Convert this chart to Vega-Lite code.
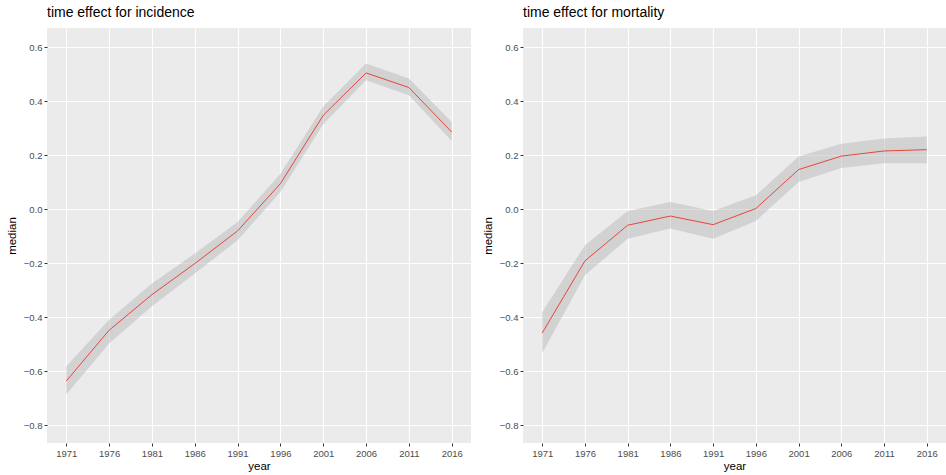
{
  "$schema": "https://vega.github.io/schema/vega-lite/v6.json",
  "padding": {"left": 6, "top": 6, "right": 0, "bottom": 0},
  "background": "white",
  "spacing": 11,
  "datasets": {
    "incidence": [
      {"year": 1971, "median": -0.636, "lower": -0.686, "upper": -0.581},
      {"year": 1976, "median": -0.448, "lower": -0.497, "upper": -0.409},
      {"year": 1981, "median": -0.316, "lower": -0.359, "upper": -0.275},
      {"year": 1986, "median": -0.201, "lower": -0.238, "upper": -0.164},
      {"year": 1991, "median": -0.080, "lower": -0.115, "upper": -0.047},
      {"year": 1996, "median": 0.095, "lower": 0.064, "upper": 0.132},
      {"year": 2001, "median": 0.348, "lower": 0.315, "upper": 0.381},
      {"year": 2006, "median": 0.505, "lower": 0.478, "upper": 0.540},
      {"year": 2011, "median": 0.451, "lower": 0.422, "upper": 0.484},
      {"year": 2016, "median": 0.286, "lower": 0.253, "upper": 0.323}
    ],
    "mortality": [
      {"year": 1971, "median": -0.458, "lower": -0.532, "upper": -0.380},
      {"year": 1976, "median": -0.191, "lower": -0.244, "upper": -0.133},
      {"year": 1981, "median": -0.059, "lower": -0.109, "upper": -0.006},
      {"year": 1986, "median": -0.025, "lower": -0.071, "upper": 0.027},
      {"year": 1991, "median": -0.057, "lower": -0.109, "upper": -0.006},
      {"year": 1996, "median": 0.003, "lower": -0.043, "upper": 0.052},
      {"year": 2001, "median": 0.147, "lower": 0.101, "upper": 0.196},
      {"year": 2006, "median": 0.197, "lower": 0.153, "upper": 0.243},
      {"year": 2011, "median": 0.216, "lower": 0.171, "upper": 0.262},
      {"year": 2016, "median": 0.221, "lower": 0.171, "upper": 0.270}
    ]
  },
  "hconcat": [
    {
      "width": 424,
      "height": 415,
      "title": {"text": "time effect for incidence"},
      "data": {"name": "incidence"},
      "layer": [
        {
          "mark": {"type": "area", "color": "#B3B3B3", "opacity": 0.45},
          "encoding": {
            "x": {"field": "year", "type": "quantitative",
              "scale": {"domain": [1968.75, 2018.25], "nice": false, "zero": false},
              "axis": {
                "title": "year",
                "values": [1971, 1973.5, 1976, 1978.5, 1981, 1983.5, 1986, 1988.5, 1991, 1993.5, 1996, 1998.5, 2001, 2003.5, 2006, 2008.5, 2011, 2013.5, 2016],
                "format": "d",
                "labelExpr": "(datum.value - 1971) % 5 == 0 ? datum.label : ''",
                "gridWidth": {"condition": {"test": "(datum.value - 1971) % 5 == 0", "value": 1.1}, "value": 0.6},
                "tickOpacity": {"condition": {"test": "(datum.value - 1971) % 5 == 0", "value": 1}, "value": 0}
              }
            },
            "y": {"field": "lower", "type": "quantitative",
              "scale": {"domain": [-0.8656, 0.6715], "nice": false, "zero": false},
              "axis": {
                "title": "median",
                "values": [-0.8, -0.7, -0.6, -0.5, -0.4, -0.3, -0.2, -0.1, 0, 0.1, 0.2, 0.3, 0.4, 0.5, 0.6],
                "format": ".1f",
                "labelExpr": "round(datum.value * 10) % 2 == 0 ? datum.label : ''",
                "gridWidth": {"condition": {"test": "round(datum.value * 10) % 2 == 0", "value": 1.1}, "value": 0.6},
                "tickOpacity": {"condition": {"test": "round(datum.value * 10) % 2 == 0", "value": 1}, "value": 0},
                "titlePadding": 6
              }
            },
            "y2": {"field": "upper"}
          }
        },
        {
          "mark": {"type": "line", "color": "#E8453C", "strokeWidth": 1},
          "encoding": {
            "x": {"field": "year", "type": "quantitative"},
            "y": {"field": "median", "type": "quantitative"}
          }
        }
      ]
    },
    {
      "width": 423,
      "height": 415,
      "title": {"text": "time effect for mortality"},
      "data": {"name": "mortality"},
      "layer": [
        {
          "mark": {"type": "area", "color": "#B3B3B3", "opacity": 0.45},
          "encoding": {
            "x": {"field": "year", "type": "quantitative",
              "scale": {"domain": [1968.75, 2018.25], "nice": false, "zero": false},
              "axis": {
                "title": "year",
                "values": [1971, 1973.5, 1976, 1978.5, 1981, 1983.5, 1986, 1988.5, 1991, 1993.5, 1996, 1998.5, 2001, 2003.5, 2006, 2008.5, 2011, 2013.5, 2016],
                "format": "d",
                "labelExpr": "(datum.value - 1971) % 5 == 0 ? datum.label : ''",
                "gridWidth": {"condition": {"test": "(datum.value - 1971) % 5 == 0", "value": 1.1}, "value": 0.6},
                "tickOpacity": {"condition": {"test": "(datum.value - 1971) % 5 == 0", "value": 1}, "value": 0}
              }
            },
            "y": {"field": "lower", "type": "quantitative",
              "scale": {"domain": [-0.8656, 0.6715], "nice": false, "zero": false},
              "axis": {
                "title": "median",
                "values": [-0.8, -0.7, -0.6, -0.5, -0.4, -0.3, -0.2, -0.1, 0, 0.1, 0.2, 0.3, 0.4, 0.5, 0.6],
                "format": ".1f",
                "labelExpr": "round(datum.value * 10) % 2 == 0 ? datum.label : ''",
                "gridWidth": {"condition": {"test": "round(datum.value * 10) % 2 == 0", "value": 1.1}, "value": 0.6},
                "tickOpacity": {"condition": {"test": "round(datum.value * 10) % 2 == 0", "value": 1}, "value": 0},
                "titlePadding": 6
              }
            },
            "y2": {"field": "upper"}
          }
        },
        {
          "mark": {"type": "line", "color": "#E8453C", "strokeWidth": 1},
          "encoding": {
            "x": {"field": "year", "type": "quantitative"},
            "y": {"field": "median", "type": "quantitative"}
          }
        }
      ]
    }
  ],
  "config": {
    "font": "Liberation Sans",
    "view": {"fill": "#EBEBEB", "stroke": null},
    "title": {"anchor": "start", "frame": "group", "fontSize": 14, "fontWeight": "normal", "color": "#000000", "offset": 8, "font": "Liberation Sans"},
    "axis": {
      "domain": false,
      "grid": true,
      "gridColor": "#FFFFFF",
      "tickColor": "#333333",
      "tickSize": 3,
      "tickWidth": 1,
      "labelColor": "#4D4D4D",
      "labelFontSize": 9.5,
      "labelPadding": 2,
      "labelFlush": false,
      "labelOverlap": false,
      "titleFontSize": 11.5,
      "titleFontWeight": "normal",
      "titleColor": "#000000",
      "titlePadding": 3,
      "labelFont": "Liberation Sans",
      "titleFont": "Liberation Sans"
    }
  },
  "resolve": {"scale": {"x": "independent", "y": "independent"}}
}
